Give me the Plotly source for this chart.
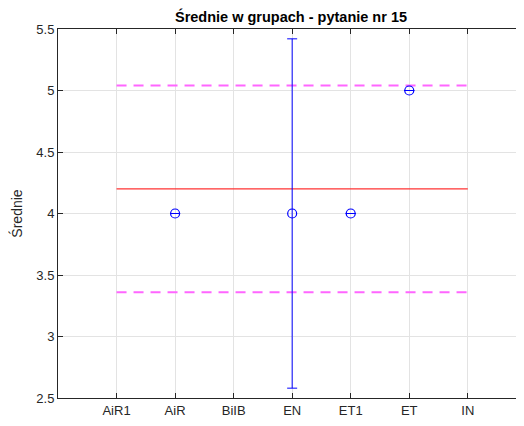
import plotly.graph_objects as go

categories = ["AiR1", "AiR", "BiIB", "EN", "ET1", "ET", "IN"]
point_groups = ["AiR", "EN", "ET1", "ET"]
point_means = [4.0, 4.0, 4.0, 5.0]
point_errors = [0.0, 1.42, 0.0, 0.0]
overall_mean = 4.2
band_upper = 5.04
band_lower = 3.36

AX = "#262626"
fig = go.Figure()

fig.add_trace(go.Scatter(
    x=["AiR1", "IN"], y=[band_upper, band_upper], mode="lines",
    line=dict(color="#ff66ff", width=2, dash="10px,7px"), hoverinfo="skip"))
fig.add_trace(go.Scatter(
    x=["AiR1", "IN"], y=[band_lower, band_lower], mode="lines",
    line=dict(color="#ff66ff", width=2, dash="10px,7px"), hoverinfo="skip"))
fig.add_trace(go.Scatter(
    x=["AiR1", "IN"], y=[overall_mean, overall_mean], mode="lines",
    line=dict(color="#ff3333", width=1.2), hoverinfo="skip"))
fig.add_trace(go.Scatter(
    x=point_groups, y=point_means, mode="markers",
    marker=dict(symbol="circle-open", size=9, color="#0000ff", line=dict(width=1.2)),
    error_y=dict(type="data", array=point_errors, visible=True,
                 color="#0000ff", thickness=1, width=5)))

fig.update_layout(
    width=516, height=410,
    margin=dict(l=50, r=0, t=21, b=20),
    paper_bgcolor="white", plot_bgcolor="white",
    showlegend=False,
    font=dict(family="Liberation Sans, Arial, sans-serif", size=13, color=AX),
    title=dict(text="<b>Średnie w grupach - pytanie nr 15</b>",
               xref="paper", x=0.5, xanchor="center",
               yref="container", y=0.978, yanchor="middle",
               font=dict(size=14.5, color="black")),
    xaxis=dict(type="category", categoryorder="array", categoryarray=categories,
               range=[-1, 6.96], showgrid=True, gridcolor="#e3e3e3", gridwidth=1,
               showline=True, linecolor=AX, linewidth=1, mirror="ticks",
               ticks="inside", ticklen=5, tickcolor=AX, zeroline=False,
               tickfont=dict(size=13, color=AX)),
    yaxis=dict(range=[2.5, 5.5], dtick=0.5, tick0=2.5, showgrid=True,
               gridcolor="#e3e3e3", gridwidth=1,
               showline=True, linecolor=AX, linewidth=1, mirror="ticks",
               ticks="inside", ticklen=5, tickcolor=AX, zeroline=False,
               tickfont=dict(size=13, color=AX),
               title=dict(text="Średnie", font=dict(size=14, color=AX), standoff=12)),
)

fig.write_html("out.html")
